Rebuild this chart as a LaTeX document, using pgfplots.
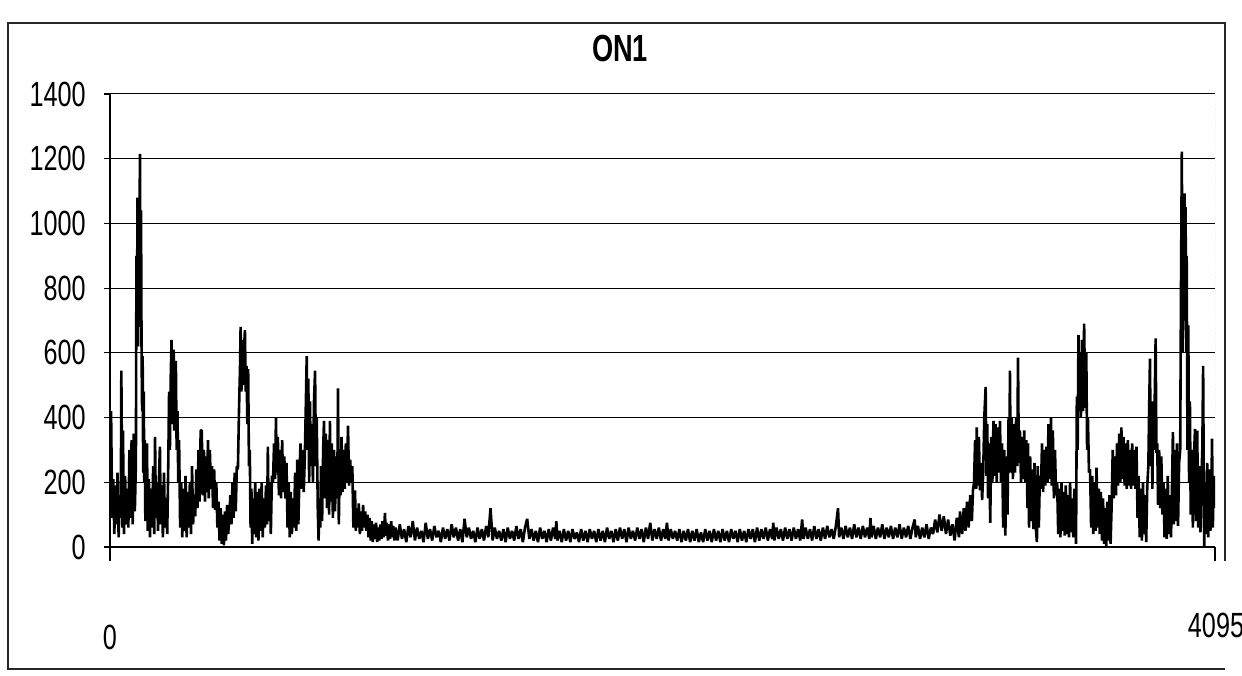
\documentclass[border=0pt]{standalone}
\usepackage{pgfplots}
\pgfplotsset{compat=1.18}
\usepackage{fontspec}
\setmainfont{Liberation Sans}[FakeStretch=0.72]
\begin{document}
\begin{tikzpicture}[x=1pt,y=1pt]
\useasboundingbox (0,0) rectangle (621,337.5);
% chart frame (right edge stops above the end label) and title
\draw[black!85, line width=0.6pt] (612.5,57) -- (612.5,326) -- (4,326) -- (4,3) -- (612.5,3);
\node[font=\fontsize{18.9}{22}\selectfont\bfseries] at (310,313.5) {ON1};
\begin{axis}[
  at={(55pt,64pt)}, anchor=south west,
  scale only axis, width=552.5pt, height=226.5pt,
  xmin=0, xmax=4095, ymin=0, ymax=1400,
  axis x line=bottom, axis y line=left,
  axis line style={-, line width=0.7pt, black},
  ytick={0,200,...,1400},
  xtick={0}, xticklabels={0},
  extra x ticks={4095}, extra x tick labels={4095},
  extra x tick style={xticklabel style={xshift=0.5pt, yshift=6pt}},
  ymajorgrids, grid style={black, line width=0.5pt},
  tick align=outside, major tick length=3pt,
  tick style={black, line width=0.6pt},
  xtick style={/pgfplots/major tick length=7pt},
  /pgf/number format/assume math mode=true,
  /pgf/number format/1000 sep={},
  yticklabel style={font=\fontsize{17.5}{20}\selectfont, anchor=east, inner sep=0pt, xshift=-9pt},
  xticklabel style={font=\fontsize{17.5}{20}\selectfont, anchor=center, yshift=-42pt},
]
\addplot[black, line width=1.3pt, line join=bevel] coordinates {
(0,180)(4,420)(8,90)(12,210)(16,40)(20,190)(24,70)(28,230)(32,30)(36,160)(40,90)(42,545)(46,60)(48,360)(52,40)(56,220)
(60,70)(64,180)(68,60)(72,300)(76,90)(80,330)(84,70)(88,350)(92,110)(96,260)(98,900)(100,700)(102,1080)(104,620)
(106,1060)(108,680)(110,1080)(111,1215)(113,760)(115,1040)(117,600)(119,420)(121,590)(123,230)(125,480)(127,200)
(129,330)(131,80)(134,200)(137,320)(140,50)(144,210)(148,30)(152,180)(156,60)(160,250)(164,40)(167,340)(170,90)
(174,200)(178,50)(182,230)(185,310)(188,70)(192,190)(196,30)(200,230)(204,60)(208,150)(212,40)
(216,260)(219,480)(222,300)(225,520)(228,640)(230,420)(232,600)(234,380)(236,610)(238,360)(241,500)(244,575)
(247,300)(250,420)(253,200)(256,330)(260,60)(264,200)(268,30)(272,180)(276,50)(280,220)(284,30)(288,170)(292,60)
(296,200)(300,40)(304,250)(308,70)(312,160)(316,95)(320,240)(324,120)(328,300)(332,140)(336,360)
(340,360)(344,160)(348,300)(352,140)(356,280)(360,170)(363,330)(366,150)(370,300)(374,180)(378,250)(382,120)
(386,240)(390,115)(394,200)(398,60)(402,140)(406,20)(410,120)(414,10)(418,100)(422,5)(426,110)(430,20)(434,130)
(438,40)(442,90)(446,160)(450,70)(454,200)(458,90)(462,230)(466,110)(470,250)(474,240)(478,420)(482,560)(484,680)
(487,480)(490,640)(493,500)(496,600)(500,670)(503,480)(506,560)(509,380)(512,550)(515,250)(518,300)(521,60)
(524,180)(527,10)(530,150)(534,40)(538,200)(542,30)(546,170)(550,20)(554,180)(558,50)(562,200)(566,30)(570,150)
(574,60)(578,190)(582,70)(585,310)(588,80)(592,200)(596,40)(600,220)(604,200)(608,320)(612,210)(615,400)(618,230)
(622,340)(626,160)(630,300)(634,150)(638,330)(642,170)(646,280)(650,150)(654,260)(658,60)(662,200)(666,30)(670,170)
(674,40)(678,150)(682,60)(686,230)(690,50)(694,270)(698,70)(702,220)
(706,320)(710,180)(714,300)(718,170)(722,280)(726,450)(729,590)(732,300)(735,520)(738,200)(741,450)(744,250)
(748,380)(752,200)(756,450)(760,545)(763,250)(766,400)(770,120)(773,20)(776,150)(779,60)(782,250)(786,80)(790,300)
(793,390)(796,150)(800,350)(804,120)(808,330)(812,100)(815,390)(818,140)(822,320)(826,90)(830,300)(834,110)
(838,280)(842,150)(845,490)(848,70)(851,250)(854,160)(858,340)(862,170)(866,300)(870,180)(874,320)(878,200)
(882,375)(886,190)(890,270)(894,200)(898,250)(902,60)(905,130)(908,175)(911,50)(914,120)(918,60)(922,135)(926,40)
(930,110)(934,50)(938,130)(942,60)(946,110)(950,50)(954,100)(958,30)(962,90)(966,20)(970,80)(974,15)(978,70)
(982,25)(986,75)(990,15)(994,60)(998,20)(1002,70)(1006,25)(1010,80)(1014,30)(1019,105)(1022,35)(1026,75)(1030,20)
(1034,70)(1038,25)(1042,80)(1046,30)(1050,65)(1054,20)
(1058,60)(1066,20)(1074,70)(1082,25)(1090,55)(1098,15)(1106,65)(1114,30)(1122,80)(1130,20)(1138,60)(1146,25)
(1154,50)(1162,15)(1170,75)(1178,25)(1186,55)(1194,20)(1202,65)(1210,30)(1218,50)(1226,15)(1234,60)(1242,25)
(1250,55)(1258,20)(1266,70)(1274,30)(1282,60)(1290,20)(1298,55)(1306,15)(1314,87)(1322,30)(1330,60)(1338,25)
(1346,50)(1354,15)(1362,60)(1370,25)(1378,55)(1386,20)(1394,65)(1402,30)(1410,120)(1418,20)(1426,60)(1434,25)
(1442,50)(1450,20)
(1458,55)(1466,15)(1474,60)(1482,25)(1490,50)(1498,20)(1506,65)(1514,25)(1522,55)(1530,15)(1538,60)(1546,87)
(1554,25)(1562,55)(1570,20)(1578,50)(1586,15)(1594,60)(1602,25)(1610,50)(1618,15)(1626,55)(1634,20)(1642,60)
(1650,25)(1654,80)(1658,20)(1666,50)(1674,15)(1682,55)(1690,20)(1698,50)(1706,15)(1714,55)(1722,25)(1730,45)
(1738,15)(1746,55)(1754,20)(1762,50)(1770,15)(1778,55)(1786,25)(1794,50)(1802,15)(1810,55)(1818,20)(1826,50)
(1834,15)(1842,60)(1850,25)(1858,50)(1866,15)(1874,55)(1882,20)(1890,60)(1898,25)(1906,55)(1914,15)(1922,60)
(1930,25)(1938,50)(1946,20)(1954,60)(1962,25)(1970,55)(1978,15)(1986,60)(1994,25)(2002,75)(2010,20)(2018,55)
(2026,25)(2034,60)(2042,20)(2050,55)(2058,25)(2064,75)(2070,20)(2078,55)(2086,25)(2094,50)
(2102,20)(2110,55)(2118,15)(2126,50)(2134,20)(2142,55)(2150,15)(2158,50)(2166,20)(2174,55)(2182,15)(2190,45)
(2198,15)(2206,55)(2214,20)(2222,50)(2230,15)(2238,55)(2246,20)(2254,50)(2262,15)(2270,55)(2278,20)(2286,50)
(2294,15)(2302,55)(2310,25)(2318,50)(2326,15)(2334,55)(2342,20)(2350,50)(2358,15)(2366,55)(2374,25)(2382,55)
(2390,15)(2398,60)(2406,20)(2414,55)(2422,25)(2430,60)(2438,20)(2446,55)(2454,25)(2458,75)(2462,20)(2470,60)
(2478,25)(2486,55)(2494,20)(2502,60)(2510,25)(2518,55)(2526,20)(2534,60)(2542,25)(2550,55)(2558,20)(2565,85)
(2570,25)(2578,60)(2586,25)(2594,55)(2602,20)(2610,65)(2618,25)(2626,55)(2634,20)(2642,60)(2650,25)(2658,65)
(2666,30)(2674,55)(2682,25)(2690,65)(2698,120)(2702,30)(2710,60)(2718,25)(2726,65)(2734,30)(2742,60)(2750,25)
(2758,70)(2766,30)(2774,60)(2782,25)(2790,65)(2798,30)(2806,60)(2814,25)(2818,90)(2822,30)(2830,65)(2838,25)
(2846,60)(2854,30)(2862,70)(2870,25)(2878,60)(2886,30)(2894,65)(2902,25)(2910,60)(2918,30)(2926,70)(2934,25)
(2942,60)(2950,30)(2958,65)(2966,25)(2974,60)(2982,85)(2986,30)(2994,65)(3002,25)(3010,60)(3018,30)(3026,70)
(3034,25)(3042,60)(3050,40)(3058,85)(3066,45)(3074,100)(3082,50)(3090,95)(3098,40)(3106,85)(3114,35)(3122,70)
(3130,20)(3138,90)(3146,30)(3150,110)
(3158,40)(3164,120)(3170,50)(3176,140)(3182,60)(3188,160)(3194,80)(3198,175)(3202,200)(3206,330)(3210,180)
(3212,370)(3216,190)(3220,340)(3224,175)(3228,260)(3232,145)(3236,230)(3240,400)(3245,495)(3248,220)(3251,380)
(3254,150)(3258,320)(3262,75)(3266,340)(3270,200)(3274,390)(3278,220)(3282,380)(3286,200)(3290,370)(3294,230)
(3298,390)(3302,200)(3306,320)(3310,60)(3314,300)(3318,35)(3322,280)(3326,100)(3330,400)(3333,250)(3335,545)
(3338,230)(3342,400)(3346,210)(3350,380)(3354,230)(3358,400)(3362,250)(3365,585)(3368,260)(3372,360)(3376,200)
(3380,340)(3384,210)(3388,360)(3392,200)(3396,330)(3400,120)(3402,320)(3406,60)(3410,280)(3414,80)(3418,240)
(3422,55)(3426,260)(3430,70)(3435,15)(3438,250)(3442,60)(3446,220)
(3450,180)(3454,320)(3458,170)(3462,300)(3466,190)(3470,310)(3474,200)(3478,380)(3482,210)(3487,400)(3490,190)
(3494,360)(3498,150)(3502,300)(3506,160)(3510,200)(3514,40)(3518,180)(3522,30)(3526,200)(3530,50)(3534,170)
(3538,35)(3542,190)(3546,40)(3550,160)(3554,30)(3558,200)(3562,45)(3566,150)(3570,30)(3574,180)(3578,60)(3580,10)
(3583,465)(3586,300)(3589,655)(3592,420)(3595,600)(3598,400)(3602,640)(3606,420)(3610,690)(3614,430)(3618,600)
(3621,300)(3624,400)(3628,230)(3632,240)(3636,60)(3640,220)(3644,40)(3648,200)(3652,50)(3656,245)(3660,60)
(3664,180)(3668,40)(3672,170)(3676,20)(3680,150)(3684,10)(3688,120)(3692,0)(3696,140)(3700,20)(3704,160)(3708,10)
(3712,130)(3716,300)(3720,150)(3724,280)(3728,160)(3732,320)(3736,190)(3740,350)(3744,200)(3748,370)(3752,210)
(3756,340)(3760,190)(3764,320)(3768,180)(3772,330)(3776,190)(3780,300)(3784,180)(3788,320)(3792,190)(3796,300)
(3800,180)(3804,310)(3808,90)(3812,220)(3816,30)(3820,180)(3824,20)(3828,200)(3832,40)(3836,160)(3840,15)
(3844,190)(3848,250)(3851,430)(3854,582)(3857,250)(3860,420)(3863,180)(3866,450)(3869,300)(3872,480)(3875,645)
(3878,290)(3881,320)(3884,130)(3888,300)(3892,120)(3896,280)(3900,100)(3904,200)(3908,30)(3912,180)(3916,25)
(3920,220)(3924,40)(3928,160)(3932,30)(3936,200)(3939,355)(3942,70)(3946,300)(3950,80)(3954,320)(3958,65)
(3962,260)(3966,300)(3969,800)(3972,1222)(3975,600)(3978,1090)(3980,700)(3982,1093)(3984,800)(3986,1050)
(3988,600)(3990,900)(3993,300)(3996,685)(3999,200)(4002,450)(4005,100)(4009,300)(4013,60)(4017,280)(4021,365)
(4025,80)(4029,360)(4033,60)(4037,250)(4041,45)(4045,220)(4048,300)(4051,560)(4054,100)(4055,0)(4058,200)
(4062,40)(4066,260)(4070,30)(4074,240)(4078,50)(4082,200)(4084,335)(4087,60)(4090,220)(4095,120)
};
% faint right edge of the plot area
\draw[black!45, densely dotted, line width=0.4pt] (axis cs:4095,0) -- (axis cs:4095,1400);
\end{axis}
\end{tikzpicture}
\end{document}
